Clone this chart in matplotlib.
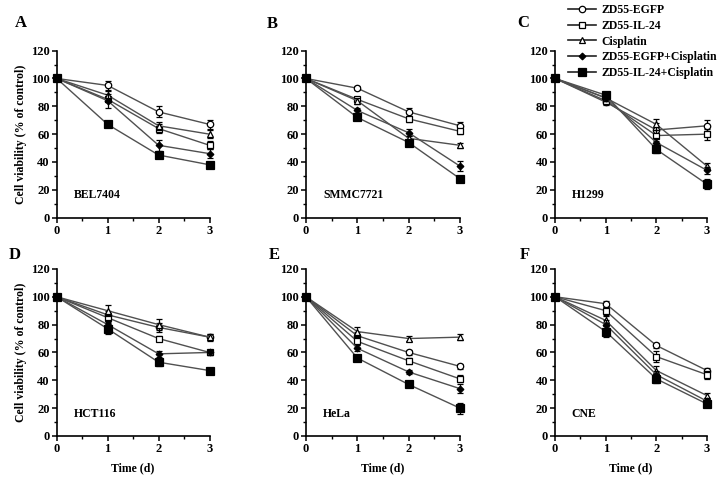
import numpy as np
import matplotlib.pyplot as plt
from matplotlib.ticker import MultipleLocator

plt.rcParams['font.family'] = ['Liberation Serif', 'DejaVu Serif']
plt.rcParams['font.weight'] = 'bold'

# ---------------------------------------------------------------------------
# data: rows = series, columns = day 0..3
# ---------------------------------------------------------------------------
days = [0, 1, 2, 3]
series = ['ZD55-EGFP', 'ZD55-IL-24', 'Cisplatin',
          'ZD55-EGFP+Cisplatin', 'ZD55-IL-24+Cisplatin']

bel7404 = [[100, 95, 76, 67], [100, 85, 64, 52], [100, 88, 66, 60],
           [100, 84, 52, 46], [100, 67, 45, 38]]
bel7404_err = [[0, 3, 4, 3], [0, 2, 3, 3], [0, 3, 3, 3],
               [0, 5, 4, 3], [0, 1.5, 2, 1.5]]

smmc7721 = [[100, 93, 76, 66], [100, 85, 71, 62], [100, 84, 57, 52],
            [100, 77, 61, 37], [100, 72, 54, 28]]
smmc7721_err = [[0, 1.5, 3, 2.5], [0, 2, 2, 2], [0, 2, 2, 2],
                [0, 2, 2.5, 3.5], [0, 1.5, 1.5, 2]]

h1299 = [[100, 83, 63, 66], [100, 84, 59, 60], [100, 86, 67, 37],
         [100, 86, 54, 34], [100, 88, 49, 24]]
h1299_err = [[0, 2, 5, 4], [0, 2, 4, 4], [0, 2, 4, 2.5],
             [0, 2, 3, 2.5], [0, 2, 2.5, 3.5]]

hct116 = [[100, 87, 78, 71], [100, 85, 70, 60], [100, 90, 80, 71],
          [100, 80, 59, 60], [100, 77, 53, 47]]
hct116_err = [[0, 3, 3, 2], [0, 3, 2, 2], [0, 4, 4, 2.5],
              [0, 3, 2, 1.5], [0, 4, 2.5, 1.5]]

hela = [[100, 72, 60, 50], [100, 68, 54, 41], [100, 75, 70, 71],
        [100, 63, 46, 34], [100, 56, 37, 20]]
hela_err = [[0, 3, 2, 2], [0, 3, 2, 2.5], [0, 3.5, 1.5, 2],
            [0, 2, 1.5, 3], [0, 2, 1.5, 4]]

cne = [[100, 95, 65, 47], [100, 90, 57, 44], [100, 83, 47, 29],
       [100, 80, 44, 25], [100, 75, 41, 23]]
cne_err = [[0, 2, 2, 2], [0, 3, 4, 3], [0, 3, 3, 2],
           [0, 3, 3, 2], [0, 4, 3, 2]]

panels = [('A', 'BEL7404', bel7404, bel7404_err),
          ('B', 'SMMC7721', smmc7721, smmc7721_err),
          ('C', 'H1299', h1299, h1299_err),
          ('D', 'HCT116', hct116, hct116_err),
          ('E', 'HeLa', hela, hela_err),
          ('F', 'CNE', cne, cne_err)]

# marker style per series: (marker, facecolor, size)
styles = [('o', 'white', 4.6), ('s', 'white', 4.8), ('^', 'white', 5.0),
          ('D', 'black', 3.4), ('s', 'black', 5.2)]

# axes rectangles in figure fractions
lefts = [0.0788, 0.425, 0.771]
widths = [0.2122, 0.2139, 0.211]
bottoms = [0.5446, 0.0879]
height = 0.3495
letter_pos = [(15, 23), (267, 24), (517, 23), (9, 255), (269, 255), (520, 255)]

fig = plt.figure(figsize=(7.2, 4.78), dpi=100)
fig.patch.set_facecolor('white')

handles = []
for k, (letter, cell, means, errs) in enumerate(panels):
    r, c = divmod(k, 3)
    ax = fig.add_axes([lefts[c], bottoms[r], widths[c], height])
    for i, (m, fc, ms) in enumerate(styles):
        ax.errorbar(days, means[i], yerr=errs[i], color='#505050', lw=1.0,
                    ecolor='black', elinewidth=0.9, capsize=2.5, capthick=0.9,
                    marker=m, mfc=fc, mec='black', mew=0.9, ms=ms,
                    clip_on=False, zorder=3 + i)
        if k == 0:
            h, = ax.plot([], [], color='#222222', lw=1.2, marker=m, mfc=fc,
                         mec='black', mew=0.9, ms=ms)
            handles.append(h)
    ax.set_xlim(0, 3)
    ax.set_ylim(0, 120)
    ax.spines['top'].set_visible(False)
    ax.spines['right'].set_visible(False)
    ax.spines['left'].set_linewidth(1.2)
    ax.spines['bottom'].set_linewidth(1.2)
    ax.xaxis.set_major_locator(MultipleLocator(1))
    ax.xaxis.set_minor_locator(MultipleLocator(0.5))
    ax.yaxis.set_major_locator(MultipleLocator(20))
    ax.yaxis.set_minor_locator(MultipleLocator(10))
    ax.tick_params(which='major', direction='out', length=3.5, width=1.1,
                   labelsize=9, pad=1.5)
    ax.tick_params(which='minor', direction='out', length=2, width=1.0)
    for lab in ax.get_xticklabels() + ax.get_yticklabels():
        lab.set_fontweight('bold')
    ax.text(0.33, 16, cell, fontsize=8.5, fontweight='bold', va='center')
    if c == 0:
        ax.set_ylabel('Cell viability (% of control)', fontsize=8.5,
                      fontweight='bold', labelpad=3)
    if r == 1:
        ax.set_xlabel('Time (d)', fontsize=8.5, fontweight='bold', labelpad=5)
    lx, ly = letter_pos[k]
    fig.text(lx / 720, 1 - ly / 478, letter, fontsize=12, fontweight='bold',
             va='center', ha='left')

fig.legend(handles, series, loc='upper left',
           bbox_to_anchor=(568 / 720, 1 - 4 / 478), frameon=False,
           handlelength=2.4, handletextpad=0.4,
           labelspacing=0.32, borderpad=0, borderaxespad=0,
           prop={'weight': 'bold', 'size': 8.5})

fig.savefig('out.png', dpi=100)
